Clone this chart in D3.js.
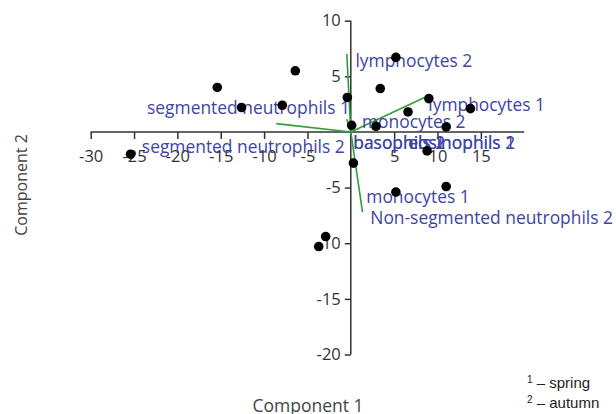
<!DOCTYPE html>
<html>
<head>
<meta charset="utf-8">
<script src="https://cdn.jsdelivr.net/npm/d3@7/dist/d3.min.js"></script>
<style>
  html, body { margin: 0; padding: 0; background: #fff; }
  svg { display: block; }
</style>
</head>
<body>
<div id="chart"></div>
<script>
// ---------------------------------------------------------
// DATA
// ---------------------------------------------------------
// sample scores
const scoreX = [-25.4, -15.4, -12.6, -7.9, -6.4, 5.2, 3.4, -0.4, 9.0, 6.6,
                13.8, 0.1, 2.9, 11.0, 8.8, 0.3, 5.2, 11.0, -2.9, -3.7];
const scoreY = [-2.0, 4.0, 2.2, 2.4, 5.5, 6.7, 3.9, 3.1, 3.0, 1.8,
                2.1, 0.6, 0.5, 0.45, -1.7, -2.8, -5.4, -4.9, -9.4, -10.3];

// loading vectors (end points)
const loadingNames = ["lymphocytes 2", "lymphocytes 1", "segmented neutrophils 1", "monocytes 2", "monocytes 1"];
const loadingX = [-0.46, 8.5, -8.6, -0.46, 1.35];
const loadingY = [7.0, 3.1, 0.75, 1.15, -7.2];

// variable labels, as placed on the plot (data units)
const labelText = ["lymphocytes 2", "lymphocytes 1", "segmented neutrophils 1", "monocytes 2",
                   "segmented neutrophils 2", "basophils 1", "basophils 2", "eosinophils 1",
                   "eosinophils 2", "monocytes 1", "Non-segmented neutrophils 2"];
const labelX = [0.54, 8.94, -0.1, 1.29, -0.7, 0.29, 0.29, 18.95, 18.95, 1.79, 2.25];
const labelY = [5.87, 1.89, 1.59, 0.39, -1.86, -1.5, -1.5, -1.5, -1.5, -6.36, -8.25];
const labelEnd = [false, false, true, false, true, false, false, true, true, false, false];

const xTicks = [-30, -25, -20, -15, -10, -5, 5, 10, 15];
const yTicks = [10, 5, -5, -10, -15, -20];
const footnotes = [["1", " – spring"], ["2", " – autumn"]];

// ---------------------------------------------------------
// SETUP
// ---------------------------------------------------------
const width = 616, height = 414;
const axisColor = "#333";
const labelColor = "#3d44a5";
const lineColor = "#2f9e3a";
const font = "'Open Sans', sans-serif";

const svg = d3.select("#chart").append("svg")
    .attr("width", width)
    .attr("height", height);

const x = d3.scaleLinear().domain([-30, 20]).range([90.7, 524.2]);
const y = d3.scaleLinear().domain([-20, 10]).range([354.5, 20.7]);

// ---------------------------------------------------------
// AXES (crossing at the origin)
// ---------------------------------------------------------
const gx = svg.append("g")
    .attr("transform", `translate(0,${y(0)})`)
    .call(d3.axisBottom(x).tickValues(xTicks).tickSize(7).tickPadding(11)
      .tickFormat(d => String(d)));

const gy = svg.append("g")
    .attr("transform", `translate(${x(0)},0)`)
    .call(d3.axisLeft(y).tickValues(yTicks).tickSize(6).tickPadding(4)
      .tickFormat(d => String(d)));

[gx, gy].forEach(g => {
  g.select(".domain").remove();
  g.selectAll(".tick line").attr("stroke", axisColor).attr("stroke-width", 1.5);
  g.selectAll(".tick text")
    .attr("fill", axisColor)
    .style("font-family", font)
    .style("font-size", "16.5px");
});

svg.append("line")
    .attr("x1", x(-30)).attr("x2", x(20))
    .attr("y1", y(0)).attr("y2", y(0))
    .attr("stroke", axisColor).attr("stroke-width", 1.5);
svg.append("line")
    .attr("x1", x(0)).attr("x2", x(0))
    .attr("y1", y(10)).attr("y2", y(-20))
    .attr("stroke", axisColor).attr("stroke-width", 1.5);

// axis titles
svg.append("text")
    .attr("x", 308).attr("y", 412)
    .attr("text-anchor", "middle")
    .attr("fill", "#444")
    .style("font-family", font)
    .style("font-size", "17.5px")
    .text("Component 1");

svg.append("text")
    .attr("transform", "translate(27,185) rotate(-90)")
    .attr("text-anchor", "middle")
    .attr("fill", "#444")
    .style("font-family", font)
    .style("font-size", "16px")
    .text("Component 2");

// ---------------------------------------------------------
// LOADING VECTORS
// ---------------------------------------------------------
svg.append("g").selectAll("line")
  .data(loadingNames)
  .enter().append("line")
    .attr("x1", x(0)).attr("y1", y(0))
    .attr("x2", (d, i) => x(loadingX[i]))
    .attr("y2", (d, i) => y(loadingY[i]))
    .attr("stroke", lineColor)
    .attr("stroke-width", 1.6);

// ---------------------------------------------------------
// LABELS
// ---------------------------------------------------------
svg.append("g").selectAll("text")
  .data(labelText)
  .enter().append("text")
    .attr("x", (d, i) => x(labelX[i]))
    .attr("y", (d, i) => y(labelY[i]))
    .attr("text-anchor", (d, i) => labelEnd[i] ? "end" : "start")
    .attr("fill", labelColor)
    .style("font-family", font)
    .style("font-size", "17.4px")
    .text(d => d);

// ---------------------------------------------------------
// SCORES
// ---------------------------------------------------------
svg.append("g").selectAll("circle")
  .data(scoreX)
  .enter().append("circle")
    .attr("cx", d => x(d))
    .attr("cy", (d, i) => y(scoreY[i]))
    .attr("r", 4.8)
    .attr("fill", "#000");

// ---------------------------------------------------------
// FOOTNOTE
// ---------------------------------------------------------
const foot = svg.append("g")
    .style("font-family", "'Liberation Sans', Arial, sans-serif")
    .style("font-size", "15px")
    .attr("fill", "#222");

footnotes.forEach((f, i) => {
  const t = foot.append("text")
      .attr("x", 527)
      .attr("y", 388 + i * 20);
  t.append("tspan").attr("dy", -5).style("font-size", "10px").text(f[0]);
  t.append("tspan").attr("dy", 5).text(f[1]);
});
</script>
</body>
</html>
